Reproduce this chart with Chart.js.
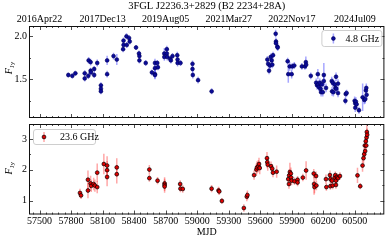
<!DOCTYPE html>
<html><head><meta charset="utf-8">
<script src="https://cdn.jsdelivr.net/npm/chart.js@4"></script>
<style>
html,body{margin:0;padding:0;background:#fff;width:389px;height:243px;overflow:hidden;}
canvas{position:absolute;left:0;}
#c1{top:0;} #c2{top:116px;}
</style></head><body>
<canvas id="c1" width="389" height="126"></canvas>
<canvas id="c2" width="389" height="127"></canvas>
<script>
const TITLE = '3FGL J2236.3+2829 (B2 2234+28A)';
const X_LABEL = 'MJD';
const TOP_TICK_MJD = [57500, 58100, 58700, 59300, 59900, 60500];
const DATE_LABELS = ['2016Apr22','2017Dec13','2019Aug05','2021Mar27','2022Nov17','2024Jul09'];
const MJD_TICKS = [57500,57800,58100,58400,58700,59000,59300,59600,59900,60200,60500];
const TOP_Y_TICKS = [1.5, 2.0];
const BOT_Y_TICKS = [1, 2, 3];
const TOP_LABEL = '4.8 GHz';
const BOT_LABEL = '23.6 GHz';

const TOP_MJD = [57774,57812,57841,57930,57930,57964,57967,57986,57986,57989,
58020,58020,58049,58084,58084,58084,58143,58143,58204,58235,
58295,58299,58299,58327,58330,58352,58358,58418,58446,58450,
58450,58510,58569,58598,58598,58598,58598,58620,58626,58687,
58687,58711,58711,58715,58743,58749,58765,58810,58813,58813,
58841,58955,58955,58958,59008,59137,59667,59674,59683,59692,
59699,59708,59714,59721,59746,59749,59749,59762,59765,59860,
59866,59879,59898,59904,59923,59995,60024,60033,60036,60080,
60131,60140,60147,60150,60156,60166,60172,60178,60185,60194,
60204,60204,60225,60279,60282,60289,60295,60308,60314,60320,
60323,60339,60339,60409,60412,60421,60497,60503,60503,60509,
60516,60538,60573,60589,60598,60604,60608,60611];
const TOP_FLUX = [1.55,1.54,1.57,1.57,1.51,1.54,1.72,1.70,1.60,1.58,
1.62,1.55,1.69,1.43,1.39,1.36,1.72,1.56,1.77,1.73,
1.85,1.90,1.95,2.00,1.90,1.98,1.94,1.87,1.80,1.77,
1.72,1.69,1.58,1.69,1.63,1.56,1.55,1.69,1.64,1.80,
1.76,1.85,1.80,1.76,1.74,1.72,1.77,1.78,1.73,1.69,
1.69,1.68,1.62,1.55,1.49,1.36,1.73,1.68,1.60,1.66,
1.76,1.72,1.67,1.78,2.03,1.94,1.92,1.88,1.87,1.71,
1.56,1.65,1.56,1.65,1.66,1.65,1.65,1.70,1.67,1.54,
1.46,1.43,1.56,1.44,1.41,1.46,1.39,1.35,1.44,1.35,
1.55,1.48,1.40,1.48,1.36,1.46,1.35,1.44,1.40,1.53,
1.39,1.45,1.34,1.25,1.33,1.34,1.25,1.22,1.17,1.24,
1.21,1.14,1.29,1.26,1.27,1.37,1.40,1.32];
const TOP_ERR = [.03,.03,.03,.035,.035,.035,.04,.04,.035,.035,
.035,.035,.04,.035,.035,.035,.055,.04,.04,.065,
.035,.035,.035,.035,.035,.035,.035,.03,.035,.035,
.035,.035,.035,.05,.05,.05,.05,.035,.035,.065,
.045,.04,.04,.04,.035,.035,.035,.04,.04,.04,
.035,.04,.04,.04,.04,.035,.04,.04,.04,.04,
.04,.04,.04,.04,.045,.04,.04,.04,.04,.04,
.10,.05,.05,.04,.04,.04,.04,.065,.05,.04,
.05,.05,.06,.05,.05,.05,.05,.05,.05,.05,
.14,.05,.05,.05,.05,.05,.05,.05,.05,.05,
.05,.05,.05,.04,.04,.04,.05,.05,.05,.05,
.05,.04,.16,.05,.05,.05,.05,.05];

const BOT_MJD = [57885,57895,57961,57961,57986,57992,58015,58027,58049,58049,
58112,58143,58143,58143,58235,58235,58545,58545,58623,58690,
58690,58690,58838,58841,58863,59137,59203,59210,59235,59444,
59472,59478,59541,59563,59569,59582,59588,59595,59664,59667,
59671,59702,59714,59721,59756,59866,59873,59875,59882,59891,
59894,59898,59926,59955,59955,60005,60036,60109,60112,60116,
60131,60134,60225,60229,60263,60267,60267,60282,60289,60308,
60314,60320,60320,60330,60339,60358,60525,60551,60573,60582,
60589,60595,60598,60604,60608,60611,60614,60617];
const BOT_FLUX = [1.25,1.17,1.68,1.33,1.56,1.48,1.54,1.49,1.91,1.44,
2.19,2.14,1.99,1.77,2.08,1.86,2.01,1.73,1.65,1.56,
1.51,1.46,1.54,1.39,1.38,1.39,1.33,1.30,0.99,0.76,
1.13,1.18,1.83,2.01,2.08,2.12,2.19,2.06,2.38,2.25,
2.17,2.12,2.04,1.91,1.94,1.70,1.54,1.82,1.93,1.88,
1.75,1.65,1.63,1.68,1.59,1.75,1.98,1.88,1.54,1.44,
1.80,1.49,1.70,1.44,1.83,1.70,1.47,1.65,1.49,1.75,
1.83,1.65,1.51,1.77,1.73,1.80,1.82,1.47,2.14,2.38,
2.51,2.79,2.61,2.93,2.79,3.05,3.23,3.14];
const BOT_ERR = [.14,.12,.3,.25,.25,.2,.2,.2,.3,.2,
.33,.3,.3,.3,.3,.3,.15,.12,.12,.2,
.2,.2,.12,.12,.12,.12,.12,.12,.1,.12,
.15,.15,.15,.2,.2,.2,.2,.2,.2,.2,
.2,.15,.15,.15,.2,.15,.15,.2,.3,.2,
.15,.15,.12,.12,.12,.12,.3,.15,.35,.2,
.15,.15,.15,.12,.15,.12,.12,.12,.12,.12,
.12,.12,.12,.12,.12,.12,.25,.1,.2,.2,
.2,.2,.2,.2,.2,.2,.25,.2];

const X_MIN = 57400, X_MAX = 60780;
const SERIF = '"Liberation Serif", "Times New Roman", serif';
Chart.defaults.font.family = SERIF;
Chart.defaults.font.size = 10;
Chart.defaults.color = '#000';

const errBars = {
  id: 'errBars',
  beforeDatasetsDraw(chart) {
    const {ctx, chartArea: a} = chart;
    const xs = chart.scales.x, ys = chart.scales.y;
    ctx.save();
    ctx.beginPath(); ctx.rect(a.left, a.top, a.right - a.left, a.bottom - a.top); ctx.clip();
    chart.data.datasets.forEach(ds => {
      ctx.strokeStyle = ds.errColor; ctx.lineWidth = 1.5;
      ds.data.forEach(p => {
        const x = xs.getPixelForValue(p.x);
        ctx.beginPath();
        ctx.moveTo(x, ys.getPixelForValue(p.y - p.e));
        ctx.lineTo(x, ys.getPixelForValue(p.y + p.e));
        ctx.stroke();
      });
    });
    ctx.restore();
  }
};

const frameTicks = {
  id: 'frameTicks',
  afterDatasetsDraw(chart, args, o) {
    const {ctx, chartArea: a} = chart;
    const xs = chart.scales.x, ys = chart.scales.y;
    ctx.save();
    ctx.strokeStyle = '#222'; ctx.lineWidth = 0.8;
    const line = (x1, y1, x2, y2) => { ctx.beginPath(); ctx.moveTo(x1, y1); ctx.lineTo(x2, y2); ctx.stroke(); };
    const doX = (v, len) => { const p = Math.round(xs.getPixelForValue(v)) + 0.5; line(p, a.top, p, a.top + len); line(p, a.bottom, p, a.bottom - len); };
    const doY = (v, len) => { const p = Math.round(ys.getPixelForValue(v)) + 0.5; if (p < a.top || p > a.bottom) return; line(a.left, p, a.left + len, p); line(a.right, p, a.right - len, p); };
    for (let v = MJD_TICKS[0] - 60; v <= X_MAX; v += 60) {
      if (v >= X_MIN) doX(v, MJD_TICKS.includes(v) ? 4 : 2);
    }
    o.yMajor.forEach(v => doY(v, 4));
    for (let v = o.yMinStart; v <= ys.max; v += o.yMinStep) {
      if (!o.yMajor.some(m => Math.abs(m - v) < 1e-6)) doY(v, 2);
    }
    ctx.lineWidth = 1; ctx.strokeStyle = '#111';
    ctx.strokeRect(a.left + 0.5, a.top + 0.5, a.right - a.left - 1, a.bottom - a.top - 1);
    ctx.restore();
  }
};

const yTitle = {
  id: 'yTitle',
  afterDraw(chart, args, o) {
    const {ctx, chartArea: a} = chart;
    ctx.save();
    const cy = (a.top + a.bottom) / 2 + o.dy;
    ctx.translate(8.5, cy);
    ctx.rotate(-Math.PI / 2);
    ctx.fillStyle = '#000';
    ctx.font = 'italic 10px ' + SERIF;
    const wF = ctx.measureText('F').width;
    ctx.font = '7px ' + SERIF;
    const wJ = ctx.measureText('Jy').width;
    const x0 = -(wF + wJ) / 2;
    ctx.textBaseline = 'alphabetic';
    ctx.font = 'italic 10px ' + SERIF;
    ctx.fillText('F', x0, 3);
    ctx.font = '7px ' + SERIF;
    ctx.fillText('Jy', x0 + wF, 5.5);
    ctx.restore();
  }
};

const legendBox = {
  id: 'legendBox',
  afterDraw(chart, args, o) {
    const {ctx, chartArea: a} = chart;
    const ds = chart.data.datasets[0];
    const x = o.right ? a.right - o.dx - o.w : a.left + o.dx;
    const y = a.top + o.dy;
    ctx.save();
    ctx.fillStyle = 'rgba(255,255,255,0.85)';
    ctx.strokeStyle = '#c8c8c8'; ctx.lineWidth = 0.9;
    ctx.beginPath();
    ctx.roundRect(x + 0.5, y + 0.5, o.w, o.h, 2.5);
    ctx.fill(); ctx.stroke();
    const mx = x + o.mx, my = y + o.h / 2 + 0.5;
    ctx.strokeStyle = ds.errColor; ctx.lineWidth = 1.5;
    ctx.beginPath(); ctx.moveTo(mx, my - 5); ctx.lineTo(mx, my + 5); ctx.stroke();
    ctx.beginPath(); ctx.arc(mx, my, ds.pointRadius, 0, Math.PI * 2);
    ctx.fillStyle = ds.pointBackgroundColor; ctx.fill();
    ctx.strokeStyle = ds.pointBorderColor; ctx.lineWidth = ds.pointBorderWidth; ctx.stroke();
    ctx.fillStyle = '#000'; ctx.font = '10px ' + SERIF;
    ctx.textBaseline = 'middle';
    ctx.fillText(ds.label, x + o.tx, my + 0.5);
    ctx.restore();
  }
};

function pts(xs, ys, es) { return xs.map((x, i) => ({x: x, y: ys[i], e: es[i]})); }

function yScale(min, max, ticks, dec) {
  return {
    type: 'linear', position: 'left', min: min, max: max,
    grid: {display: false, drawTicks: false}, border: {display: false},
    afterBuildTicks: s => { s.ticks = ticks.map(v => ({value: v})); },
    afterFit: s => { s.width = 29; },
    ticks: {padding: 2, font: {size: 10}, callback: v => dec ? v.toFixed(1) : String(v)}
  };
}

new Chart(document.getElementById('c1'), {
  type: 'scatter',
  data: {datasets: [{
    label: TOP_LABEL, data: pts(TOP_MJD, TOP_FLUX, TOP_ERR),
    pointBackgroundColor: '#0b0b98', pointBorderColor: '#00005c', pointBorderWidth: 0.6,
    pointRadius: 1.9, errColor: 'rgba(60,60,255,0.45)', showLine: false
  }]},
  options: {
    responsive: false, animation: false, events: [],
    layout: {padding: {left: 0, right: 3, top: 0, bottom: 5}},
    plugins: {legend: {display: false}, tooltip: {enabled: false},
      frameTicks: {yMajor: TOP_Y_TICKS, yMinStart: 1.0, yMinStep: 0.25},
      yTitle: {dy: -4},
      legendBox: {right: true, dx: 3, dy: 4, w: 60, h: 16, mx: 12, tx: 24}
    },
    scales: {
      x: {type: 'linear', min: X_MIN, max: X_MAX, display: false},
      x2: {type: 'linear', position: 'top', min: X_MIN, max: X_MAX,
        grid: {display: false, drawTicks: false}, border: {display: false},
        afterBuildTicks: s => { s.ticks = TOP_TICK_MJD.map(v => ({value: v})); },
        afterFit: s => { s.height = 26; },
        ticks: {padding: 1, maxRotation: 0, autoSkip: false, font: {size: 10},
          callback: v => DATE_LABELS[TOP_TICK_MJD.indexOf(v)]},
        title: {display: true, text: TITLE, font: {size: 10.5}, padding: {top: 0, bottom: 0}}
      },
      y: yScale(1.05, 2.12, TOP_Y_TICKS, true)
    }
  },
  plugins: [errBars, frameTicks, yTitle, legendBox]
});

new Chart(document.getElementById('c2'), {
  type: 'scatter',
  data: {datasets: [{
    label: BOT_LABEL, data: pts(BOT_MJD, BOT_FLUX, BOT_ERR),
    pointBackgroundColor: '#e00000', pointBorderColor: '#000', pointBorderWidth: 0.7,
    pointRadius: 1.9, errColor: 'rgba(255,60,60,0.45)', showLine: false
  }]},
  options: {
    responsive: false, animation: false, events: [],
    layout: {padding: {left: 0, right: 3, top: 5, bottom: 0}},
    plugins: {legend: {display: false}, tooltip: {enabled: false},
      frameTicks: {yMajor: BOT_Y_TICKS, yMinStart: 0.5, yMinStep: 0.5},
      yTitle: {dy: -1},
      legendBox: {right: false, dx: 4, dy: 5, w: 62, h: 15, mx: 11, tx: 27}
    },
    scales: {
      x: {type: 'linear', position: 'bottom', min: X_MIN, max: X_MAX,
        grid: {display: false, drawTicks: false}, border: {display: false},
        afterBuildTicks: s => { s.ticks = MJD_TICKS.map(v => ({value: v})); },
        afterFit: s => { s.height = 28.5; },
        ticks: {padding: 1, maxRotation: 0, autoSkip: false, font: {size: 10}, callback: v => String(v)},
        title: {display: true, text: X_LABEL, font: {size: 10}, padding: {top: 0, bottom: 4.5}}
      },
      y: yScale(0.55, 3.49, BOT_Y_TICKS, false)
    }
  },
  plugins: [errBars, frameTicks, yTitle, legendBox]
});
</script></body></html>
